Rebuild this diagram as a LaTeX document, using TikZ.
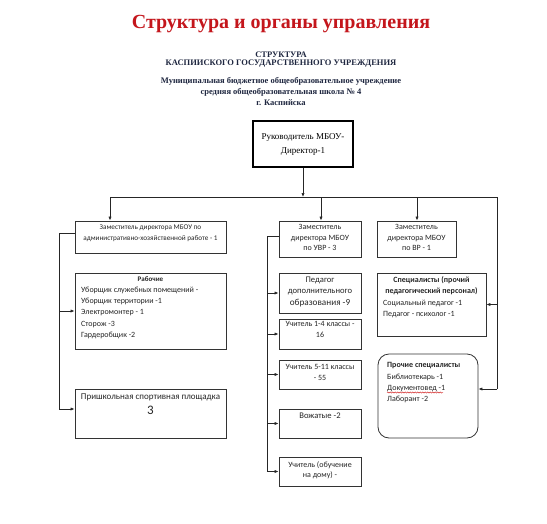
\documentclass[tikz,border=0pt]{standalone}
\usepackage{fontspec}
\setmainfont{Liberation Serif}
\newfontfamily\calfont{Carlito}
\usetikzlibrary{arrows.meta,decorations.pathmorphing}
\definecolor{titred}{HTML}{C4161C}
\definecolor{navy}{HTML}{1F2740}
\definecolor{boxline}{HTML}{333333}
\begin{document}
\begin{tikzpicture}[x=1pt,y=-1pt,
  box/.style={draw=boxline,line width=0.8pt,minimum width=#1,inner sep=0pt,fill=white},
  tx/.style={inner sep=0pt,font=\calfont\fontsize{8}{10.8}\selectfont,align=center,text=black!85},
  txl/.style={inner sep=0pt,font=\calfont\fontsize{8}{11.3}\selectfont,align=left,text=black!85},
  conn/.style={draw=black!85,line width=0.7pt},
  arr/.style={conn,-{Latex[length=4pt,width=3.2pt]}},
  hd/.style={inner sep=0pt,text=navy,font=\bfseries\fontsize{8.5}{10}\selectfont}]
\useasboundingbox (0,0) rectangle (547,523);
\fill[white] (0,0) rectangle (547,523);
% titles
\node[inner sep=0pt,anchor=base,text=titred,font=\bfseries\fontsize{20}{24}\selectfont] (title) at (281,28) {Структура и органы управления};
\node[hd,anchor=base] (h1) at (281,57) {СТРУКТУРА};
\node[hd,anchor=base] (h2) at (281,65) {КАСПИИСКОГО ГОСУДАРСТВЕННОГО УЧРЕЖДЕНИЯ};
\node[hd,anchor=base] (h3) at (281,83) {Муниципальная бюджетное общеобразовательное учреждение};
\node[hd,anchor=base] (h4) at (281,94) {средняя общеобразовательная школа № 4};
\node[hd,anchor=base] (h5) at (281,105) {г. Каспийска};
% boxes
\node[box=100pt,minimum height=46pt,line width=1.4pt,draw=black,align=center,font=\fontsize{9}{14}\selectfont] (dir) at (303,144) {Руководитель МБОУ-\\Директор-1};
\node[box=151pt,minimum height=32pt] (ahr) at (150.5,237) {};
\node[box=151pt,minimum height=76pt] (rab) at (150.5,311) {};
\node[box=151pt,minimum height=49pt] (sport) at (150.5,413.5) {};
\node[box=82pt,minimum height=36pt] (uvr) at (320,239) {};
\node[box=82pt,minimum height=40pt] (ped) at (320,293) {};
\node[box=82pt,minimum height=30pt] (u14) at (320,334) {};
\node[box=82pt,minimum height=29pt] (u511) at (320,374.5) {};
\node[box=82pt,minimum height=29pt] (vozh) at (320,423.5) {};
\node[box=82pt,minimum height=29pt] (udom) at (320,471.5) {};
\node[box=79pt,minimum height=36pt] (vr) at (416.5,239) {};
\node[box=109pt,minimum height=63pt] (spec) at (431.5,304.5) {};
\node[box=100pt,minimum height=84pt,rounded corners=11pt] (proch) at (428,396) {};
% texts
\node[tx,anchor=north,font=\calfont\fontsize{7.2}{10.8}\selectfont] (tahr) at (150.5,224.5) {Заместитель директора МБОУ по\\административно-хозяйственной работе - 1};
\node[tx,anchor=north,font=\calfont\bfseries\fontsize{7}{10}\selectfont] (trab) at (150.5,276.5) {Рабочие};
\node[txl,anchor=north west] (trab2) at (81,286.5) {Уборщик служебных помещений -\\Уборщик территории -1\\Электромонтер - 1\\Сторож -3\\Гардеробщик -2};
\node[tx,anchor=north,font=\calfont\fontsize{9}{10}\selectfont] (tsp) at (150.5,394) {Пришкольная спортивная площадка};
\node[tx,anchor=north,font=\calfont\fontsize{13}{14}\selectfont] (tsp3) at (150.5,406) {3};
\node[tx,anchor=north] (tuvr) at (320,224) {Заместитель\\директора МБОУ\\по УВР - 3};
\node[tx,anchor=north,font=\calfont\fontsize{8.6}{11.6}\selectfont] (tped) at (320,276.5) {Педагог\\дополнительного\\{\fontsize{9.2}{11.6}\selectfont образования -9}};
\node[tx,anchor=north] (tu14) at (320,321) {Учитель 1-4 классы -\\16};
\node[tx,anchor=north] (tu511) at (320,364) {Учитель 5-11 классы\\- 55};
\node[tx,anchor=north,font=\calfont\fontsize{8.6}{10}\selectfont] (tvozh) at (320,413) {Вожатые -2};
\node[tx,anchor=north] (tudom) at (320,461) {Учитель (обучение\\на дому) -};
\node[tx,anchor=north] (tvr) at (416.5,224) {Заместитель\\директора МБОУ\\по ВР - 1};
\node[tx,anchor=north,font=\calfont\bfseries\fontsize{8}{11}\selectfont] (tspec) at (431.5,276.5) {Специалисты (прочий\\педагогический персонал)};
\node[txl,anchor=north west,font=\calfont\fontsize{8}{11.2}\selectfont] (tspec2) at (383,299.5) {Социальный педагог -1\\Педагог - психолог -1};
\node[txl,anchor=north west,font=\calfont\fontsize{8}{11.2}\selectfont] (tproch) at (387,362.5) {\textbf{Прочие специалисты}\\Библиотекарь -1\\Документовед -1\\Лаборант -2};
\draw[red!80!black,line width=0.4pt,decorate,decoration={snake,amplitude=0.6pt,segment length=2.5pt}] (387,392.5) -- (443,392.5);
% connectors
\coordinate (bus) at (303,197);
\coordinate (bL) at (110,197);
\coordinate (bU) at (321,197);
\coordinate (bV) at (417,197);
\coordinate (bR) at (497,197);
\coordinate (rEnd) at (497,389);
\draw[arr] (dir.south) -- (bus);
\draw[conn] (bL) -- (bR) -- (rEnd);
\draw[arr] (bL) -- (bL |- ahr.north);
\draw[arr] (bU) -- (bU |- uvr.north);
\draw[arr] (bV) -- (bV |- vr.north);
\draw[arr] (rEnd) -- (rEnd -| proch.east);
\draw[arr] (spec.east -| rEnd) -- (spec.east);
% left AHR branch
\coordinate (aL) at (59,233);
\coordinate (aB) at (59,409);
\draw[conn] (aL -| ahr.west) -- (aL) -- (aB);
\draw[arr] (aB) -- (aB -| sport.west);
\draw[arr] (rab.west -| aL) -- (rab.west);
% UVR branch
\coordinate (uL) at (267,236);
\coordinate (uB) at (267,471.5);
\draw[conn] (uL -| uvr.west) -- (uL) -- (uB);
\draw[arr] (uB) -- (udom.west);
\draw[arr] (ped.west -| uL) -- (ped.west);
\draw[arr] (u14.west -| uL) -- (u14.west);
\draw[arr] (u511.west -| uL) -- (u511.west);
\draw[arr] (vozh.west -| uL) -- (vozh.west);
\end{tikzpicture}
\end{document}
